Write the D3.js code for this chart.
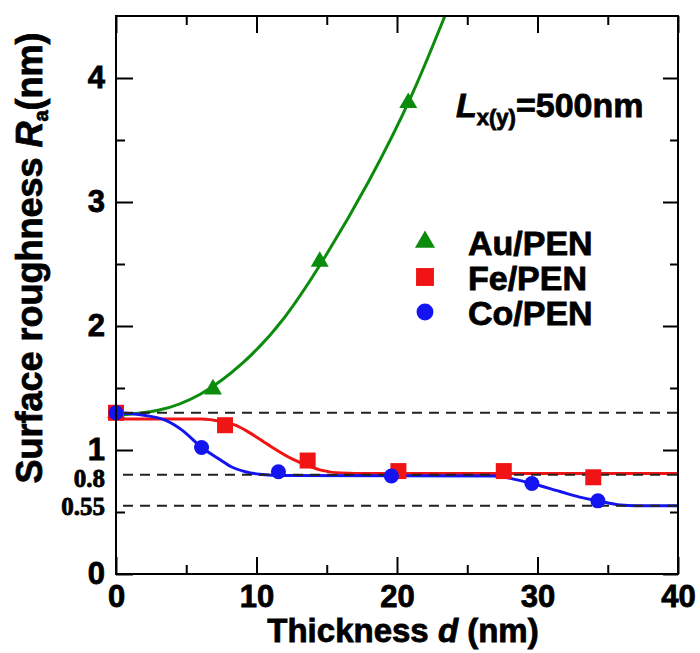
<!DOCTYPE html>
<html>
<head>
<meta charset="utf-8">
<script src="https://cdn.jsdelivr.net/npm/d3@7/dist/d3.min.js"></script>
<style>
  body { margin: 0; background: #fff; }
  text { font-family: "Liberation Sans", Arial, sans-serif; font-weight: bold; fill: #000;
         stroke: #000; stroke-width: 0.8px; }
</style>
</head>
<body>
<svg id="chart" width="700" height="653"></svg>
<script>
// measured points
const auX = [0, 6.9, 14.5, 20.8];
const auY = [1.3, 1.49, 2.52, 3.80];
const feX = [0, 7.76, 13.64, 20.1, 27.6, 33.97];
const feY = [1.3, 1.20, 0.915, 0.83, 0.83, 0.78];
const coX = [0, 6.09, 11.56, 19.6, 29.6, 34.3];
const coY = [1.30, 1.02, 0.825, 0.79, 0.73, 0.59];

// guide-to-the-eye curves
const auCurveX = [0, 3, 6, 9, 12, 15, 18, 21, 23.3, 24.5];
const auCurveY = [1.28, 1.32, 1.45, 1.70, 2.07, 2.58, 3.17, 3.85, 4.47, 4.8];
const feCurveX = [0, 6, 7.5, 8.5, 9.5, 11, 12.5, 13.5, 14.5, 16, 18, 40];
const feCurveY = [1.25, 1.25, 1.23, 1.2, 1.14, 1.03, 0.93, 0.88, 0.84, 0.815, 0.81, 0.81];
const coCurveX = [0, 2, 3.5, 4.7, 6.1, 7.3, 8.2, 9.2, 10.2, 12, 27, 28.3, 29.6, 31.6, 33, 34.3, 35.9, 37, 40];
const coCurveY = [1.30, 1.28, 1.24, 1.16, 1.02, 0.93, 0.865, 0.825, 0.805, 0.795, 0.79, 0.765, 0.73, 0.665, 0.62, 0.59, 0.556, 0.55, 0.55];

const refLines = [1.3, 0.8, 0.55];
const refLabels = ["0.8", "0.55"];
const refLabelValues = [0.8, 0.55];

const xMajor = [0, 10, 20, 30, 40];
const xMinor = [5, 15, 25, 35];
const yMajor = [0, 1, 2, 3, 4];
const yMinor = [0.5, 1.5, 2.5, 3.5];

const seriesNames = ["Au/PEN", "Fe/PEN", "Co/PEN"];

const colors = { au: "#0c8c0c", fe: "#f01414", co: "#1414f0" };

const mLeft = 116, mTop = 16, mRight = 678, mBottom = 574;

const svg = d3.select("#chart");

const x = d3.scaleLinear().domain([0, 40]).range([mLeft, mRight]);
const y = d3.scaleLinear().domain([0, 4.5]).range([mBottom, mTop]);

svg.append("defs").append("clipPath").attr("id", "plotClip")
  .append("rect")
  .attr("x", mLeft).attr("y", mTop)
  .attr("width", mRight - mLeft).attr("height", mBottom - mTop);

function pts(xs, ys) { return xs.map((v, i) => [v, ys[i]]); }

const smooth = d3.line()
  .x(d => x(d[0]))
  .y(d => y(d[1]))
  .curve(d3.curveNatural);
const line = d3.line()
  .x(d => x(d[0]))
  .y(d => y(d[1]))
  .curve(d3.curveMonotoneX);

// curves
const curves = svg.append("g").attr("clip-path", "url(#plotClip)");
[[auCurveX, auCurveY, colors.au, smooth], [feCurveX, feCurveY, colors.fe, line], [coCurveX, coCurveY, colors.co, line]]
  .forEach(([xs, ys, c, gen]) => {
    curves.append("path")
      .attr("d", gen(pts(xs, ys)))
      .attr("fill", "none")
      .attr("stroke", c)
      .attr("stroke-width", 3);
  });

// dashed reference lines
svg.append("g").selectAll("line")
  .data(refLines)
  .join("line")
  .attr("x1", x(0)).attr("x2", x(40))
  .attr("y1", d => y(d)).attr("y2", d => y(d))
  .attr("stroke", "#222")
  .attr("stroke-width", 2)
  .attr("stroke-dasharray", "10,7")
  .attr("stroke-dashoffset", 10);

// markers
const sym = d3.symbol();
function drawMarkers(xs, ys, type, size, c) {
  svg.append("g").selectAll("path")
    .data(pts(xs, ys))
    .join("path")
    .attr("transform", d => `translate(${x(d[0])},${y(d[1])})`)
    .attr("d", sym.type(type).size(size)())
    .attr("fill", c);
}
drawMarkers(auX, auY, d3.symbolTriangle, 140, colors.au);
drawMarkers(feX, feY, d3.symbolSquare, 256, colors.fe);
drawMarkers(coX, coY, d3.symbolCircle, 177, colors.co);

// frame
svg.append("rect")
  .attr("x", mLeft).attr("y", mTop)
  .attr("width", mRight - mLeft).attr("height", mBottom - mTop)
  .attr("fill", "none").attr("stroke", "#000").attr("stroke-width", 2);

function styleAxis(g) {
  g.select(".domain").remove();
  g.selectAll(".tick line").attr("stroke", "#000").attr("stroke-width", 2);
  g.selectAll(".tick text")
    .attr("font-family", null)
    .style("font-size", "31px");
}

// bottom
svg.append("g").attr("transform", `translate(0,${mBottom})`)
  .call(d3.axisBottom(x).tickValues(xMajor).tickSize(-17).tickPadding(11).tickFormat(d3.format("d")))
  .call(styleAxis);
svg.append("g").attr("transform", `translate(0,${mBottom})`)
  .call(d3.axisBottom(x).tickValues(xMinor).tickSize(-9).tickFormat(""))
  .call(styleAxis);
// top
svg.append("g").attr("transform", `translate(0,${mTop})`)
  .call(d3.axisTop(x).tickValues(xMajor).tickSize(-17).tickFormat(""))
  .call(styleAxis);
svg.append("g").attr("transform", `translate(0,${mTop})`)
  .call(d3.axisTop(x).tickValues(xMinor).tickSize(-9).tickFormat(""))
  .call(styleAxis);
// left
svg.append("g").attr("transform", `translate(${mLeft},0)`)
  .call(d3.axisLeft(y).tickValues(yMajor).tickSize(-17).tickPadding(11).tickFormat(d3.format("d")))
  .call(styleAxis);
svg.append("g").attr("transform", `translate(${mLeft},0)`)
  .call(d3.axisLeft(y).tickValues(yMinor).tickSize(-9).tickFormat(""))
  .call(styleAxis);
// right
svg.append("g").attr("transform", `translate(${mRight},0)`)
  .call(d3.axisRight(y).tickValues(yMajor).tickSize(-15).tickFormat(""))
  .call(styleAxis);
svg.append("g").attr("transform", `translate(${mRight},0)`)
  .call(d3.axisRight(y).tickValues(yMinor).tickSize(-8).tickFormat(""))
  .call(styleAxis);

// labels for the reference levels
svg.append("g").selectAll("text")
  .data(refLabels)
  .join("text")
  .attr("x", mLeft - 11)
  .attr("y", (d, i) => y(refLabelValues[i]))
  .attr("dy", (d, i) => i === 0 ? "0.5em" : "0.38em")
  .attr("text-anchor", "end")
  .style("font-family", "'Liberation Serif', 'Times New Roman', serif")
  .style("font-size", "25px")
  .text(d => d);

// axis titles
const xt = svg.append("text")
  .attr("x", 403).attr("y", 642)
  .attr("text-anchor", "middle")
  .style("font-size", "33px");
xt.append("tspan").text("Thickness ");
xt.append("tspan").style("font-style", "italic").text("d");
xt.append("tspan").text(" (nm)");

const yt = svg.append("text")
  .attr("transform", "translate(42,258) rotate(-90)")
  .attr("text-anchor", "middle")
  .style("font-size", "36px");
yt.append("tspan").text("Surface roughness ");
yt.append("tspan").style("font-style", "italic").text("R");
yt.append("tspan").attr("dy", 6).style("font-size", "20px").text("a");
yt.append("tspan").attr("dy", -6).text("(nm)");

// L annotation
const lt = svg.append("text")
  .attr("x", 456).attr("y", 117)
  .style("font-size", "34px");
lt.append("tspan").style("font-style", "italic").text("L");
lt.append("tspan").attr("dy", 8).style("font-size", "22px").text("x(y)");
lt.append("tspan").attr("dy", -8).text("=500nm");

// legend
const legTypes = [d3.symbolTriangle, d3.symbolSquare, d3.symbolCircle];
const legSizes = [175, 320, 225];
const legColors = [colors.au, colors.fe, colors.co];
const leg = svg.append("g").selectAll("g")
  .data(seriesNames)
  .join("g")
  .attr("transform", (d, i) => `translate(0,${255 + i * 35})`);
leg.append("path")
  .attr("transform", "translate(425,-13)")
  .attr("d", (d, i) => sym.type(legTypes[i]).size(legSizes[i])())
  .attr("fill", (d, i) => legColors[i]);
leg.append("text")
  .attr("x", 468)
  .style("font-size", "34px")
  .text(d => d);
</script>
</body>
</html>
